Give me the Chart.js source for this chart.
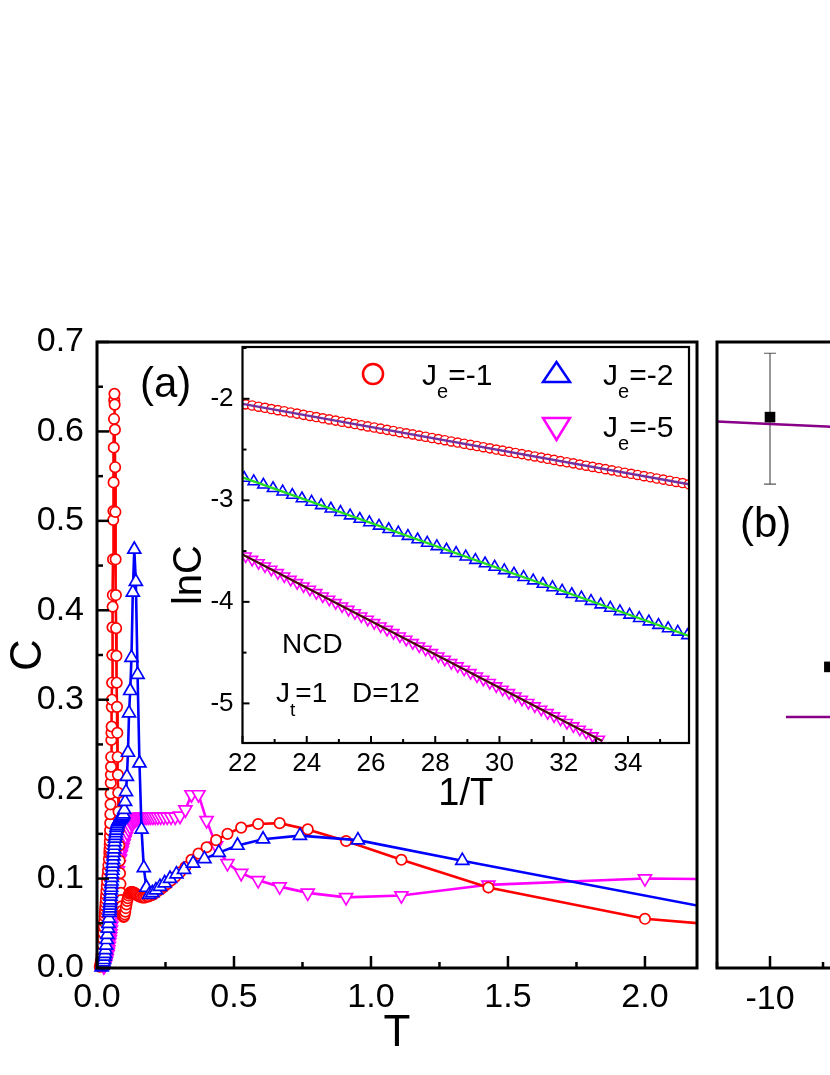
<!DOCTYPE html>
<html><head><meta charset="utf-8">
<script src="https://cdn.jsdelivr.net/npm/chart.js@4.4.1/dist/chart.umd.min.js"></script>
<style>
html,body{margin:0;padding:0;background:#fff;width:830px;height:1075px;overflow:hidden;}
#wrap{position:relative;width:830px;height:1075px;overflow:hidden;font-family:'Liberation Sans',Arial,sans-serif;color:#000;background:#fff;}
canvas{position:absolute;}
.t{position:absolute;white-space:nowrap;line-height:1;z-index:10;}
</style></head><body><div id="wrap">
<canvas id="cA" width="710" height="1075" style="left:0;top:0;z-index:1"></canvas>
<canvas id="cI" width="560" height="520" style="left:150px;top:300px;z-index:2"></canvas>
<canvas id="cB" width="710" height="1075" style="left:620px;top:0;z-index:3"></canvas>
<svg style="position:absolute;left:0;top:0;z-index:9" width="830" height="1075">
  <circle cx="373" cy="374" r="10" fill="#fff" stroke="#ff0000" stroke-width="2.5"/>
  <polygon points="543,382 570,382 556.5,362" fill="#fff" stroke="#0000ff" stroke-width="2.5"/>
  <polygon points="543,418 570,418 556.5,440" fill="#fff" stroke="#ff00ff" stroke-width="2.5"/>
</svg>
<div class="t" style="left:422px;top:360px;font-size:30px">J<span style="font-size:20px;position:relative;top:13px">e</span>=-1</div>
<div class="t" style="left:603px;top:360px;font-size:30px">J<span style="font-size:20px;position:relative;top:13px">e</span>=-2</div>
<div class="t" style="left:603px;top:412px;font-size:30px">J<span style="font-size:20px;position:relative;top:13px">e</span>=-5</div>
<div class="t" style="left:282px;top:630px;font-size:28px">NCD</div>
<div class="t" style="left:276px;top:679px;font-size:28px">J<span style="font-size:19px;position:relative;top:14px">t</span>=1</div>
<div class="t" style="left:352px;top:679px;font-size:28px">D=12</div>
<div class="t" style="left:140px;top:362px;font-size:42px">(a)</div>
<div class="t" style="left:740px;top:502px;font-size:42px">(b)</div>
<div class="t" style="left:147px;top:555px;width:80px;height:40px;line-height:40px;text-align:center;font-size:40px;transform:rotate(-90deg)">lnC</div>
</div>
<script>
const FONT = "'Liberation Sans', Arial, sans-serif";

// ---------- Panel (a): C vs T ----------
const redJe1 = [[0.0100,0.0015],[0.0125,0.0047],[0.0143,0.0084],[0.0167,0.0148],[0.0182,0.0196],[0.0200,0.026],[0.0217,0.0328],[0.0233,0.039],[0.0250,0.046],[0.0263,0.0518],[0.0278,0.058],[0.0286,0.0614],[0.0294,0.065],[0.0303,0.0688],[0.0313,0.0729],[0.0323,0.0771],[0.0333,0.0817],[0.0345,0.0865],[0.0357,0.0916],[0.0370,0.097],[0.0385,0.103],[0.0400,0.109],[0.0417,0.115],[0.0435,0.122],
[0.0452,0.128],[0.0457,0.131],[0.0461,0.134],[0.0465,0.138],[0.0469,0.142],[0.0474,0.148],[0.0478,0.154],[0.0483,0.162],[0.0488,0.172],[0.0493,0.183],[0.0498,0.195],[0.0503,0.207],[0.0508,0.216],[0.0513,0.225],[0.0518,0.236],[0.0524,0.255],[0.0529,0.263],[0.0535,0.270],[0.0541,0.292],[0.0546,0.300],[0.0552,0.319],[0.0559,0.350],[0.0565,0.381],[0.0571,0.404],[0.0578,0.417],[0.0585,0.457],[0.0592,0.501],[0.0599,0.511],[0.0606,0.543],[0.0613,0.582],[0.0621,0.614],[0.0629,0.635],
[0.0637,0.642],[0.0645,0.630],[0.0654,0.602],[0.0662,0.560],[0.0671,0.510],[0.0680,0.457],[0.0690,0.417],[0.0699,0.380],[0.0709,0.349],[0.0719,0.319],[0.0730,0.292],[0.0741,0.263],[0.0752,0.236],[0.0763,0.216],[0.0775,0.196],[0.0787,0.175],[0.0800,0.155],[0.0813,0.137],[0.0826,0.120],[0.0840,0.106],[0.0855,0.094],[0.0870,0.084],[0.0885,0.076],[0.0901,0.069],[0.0917,0.064],[0.0935,0.060],[0.0952,0.058],[0.0971,0.057],[0.0990,0.058],
[0.1010,0.060],[0.1031,0.063],[0.1053,0.067],[0.1075,0.071],[0.1099,0.075],[0.1124,0.078],[0.1149,0.081],[0.1176,0.083],[0.1205,0.084],[0.1235,0.085],[0.1266,0.085],[0.1299,0.085],[0.1333,0.084],[0.1370,0.084],[0.1408,0.083],[0.1449,0.082],[0.1493,0.081],[0.1538,0.080],[0.1587,0.080],[0.1639,0.079],[0.1695,0.079],[0.1754,0.079],[0.1818,0.080],[0.1887,0.080],[0.1961,0.081],[0.2041,0.082],[0.2128,0.084],[0.2222,0.086],[0.2326,0.088],[0.2439,0.091],[0.2564,0.094],[0.2703,0.098],[0.2857,0.102],[0.3030,0.107],[0.3226,0.113],[0.3448,0.121],[0.3704,0.128],[0.4000,0.135],[0.4348,0.143],[0.4762,0.150],[0.5263,0.157],[0.5882,0.161],[0.6667,0.162],[0.7692,0.155],[0.9091,0.142],[1.1111,0.121],[1.4286,0.090],[2.0000,0.055],[3.3333,0.021]];

const blueJe2 = [[0.0167,0.0009],[0.0200,0.0027],[0.0222,0.0047],[0.0238,0.0066],[0.0256,0.0092],[0.0277,0.0129],[0.0294,0.0161],[0.0312,0.0202],[0.0333,0.0253],[0.0357,0.0316],[0.0377,0.0374],[0.0399,0.0443],[0.0416,0.0496],[0.0434,0.0555],[0.0454,0.062],
[0.0460,0.064],[0.0466,0.067],[0.0473,0.070],[0.0480,0.073],[0.0487,0.076],[0.0494,0.080],[0.0501,0.083],[0.0509,0.087],[0.0517,0.090],[0.0525,0.094],[0.0533,0.097],[0.0542,0.101],[0.0551,0.105],[0.0560,0.109],[0.0570,0.113],[0.0580,0.117],[0.0590,0.121],[0.0601,0.125],[0.0612,0.129],[0.0623,0.133],[0.0635,0.137],[0.0647,0.141],[0.0660,0.145],[0.0673,0.148],[0.0687,0.151],[0.0702,0.154],[0.0717,0.157],[0.0733,0.159],[0.0749,0.161],[0.0766,0.163],[0.0784,0.164],[0.0803,0.165],[0.0823,0.166],[0.0844,0.167],[0.0866,0.167],[0.0889,0.168],[0.0913,0.169],[0.0939,0.170],[0.0966,0.172],
[0.0995,0.177],[0.1026,0.186],[0.1058,0.197],[0.1093,0.214],[0.1130,0.241],[0.1170,0.285],[0.1212,0.310],[0.1258,0.347],[0.1307,0.420],[0.1361,0.468],[0.1418,0.432],[0.1481,0.328],[0.1550,0.229],[0.1626,0.155],[0.1709,0.112],[0.1802,0.090],[0.1905,0.082],[0.2020,0.084],[0.2151,0.087],[0.2299,0.091],[0.2469,0.095],[0.2667,0.100],[0.2899,0.105],[0.3175,0.110],[0.3509,0.117],[0.3922,0.122],[0.4444,0.129],[0.5128,0.137],[0.6061,0.144],[0.7407,0.148],[0.9524,0.143],[1.3333,0.120],[2.2222,0.068]];

const magJe5 = [[0.0249,0.0015],[0.0277,0.0029],[0.0302,0.0047],[0.0332,0.0077],[0.0356,0.0107],[0.0383,0.0149],[0.0398,0.0176],[0.0415,0.0207],[0.0433,0.0244],[0.0452,0.0287],[0.0465,0.0317],[0.0478,0.035],[0.0493,0.0386],[0.0508,0.0426],[0.0524,0.047],[0.0541,0.0518],[0.0559,0.0572],[0.0578,0.063],[0.0599,0.0697],[0.0621,0.0768],[0.0645,0.082],[0.0671,0.088],[0.0699,0.095],[0.0730,0.102],[0.0763,0.109],[0.0800,0.116],[0.0840,0.122],[0.0870,0.127],[0.0901,0.131],[0.0935,0.135],[0.0971,0.139],[0.1010,0.143],[0.1053,0.147],[0.1099,0.151],[0.1149,0.155],[0.1205,0.158],[0.1266,0.161],[0.1299,0.162],[0.1333,0.164],[0.1370,0.165],[0.1408,0.166],[0.1449,0.167],[0.1493,0.168],[0.1538,0.169],[0.1587,0.169],[0.1639,0.169],[0.1695,0.169],[0.1754,0.169],[0.1818,0.169],[0.1887,0.169],[0.1961,0.169],[0.2041,0.169],[0.2128,0.169],[0.2222,0.169],[0.2326,0.169],[0.2439,0.169],[0.2564,0.169],[0.2703,0.169],[0.2857,0.169],[0.3030,0.170],[0.3226,0.177],[0.3448,0.194],[0.3704,0.194],[0.4000,0.165],[0.4348,0.137],[0.4762,0.117],[0.5263,0.106],[0.5882,0.098],[0.6667,0.091],[0.7692,0.084],[0.9091,0.079],[1.1111,0.081],[1.4286,0.093],[2.0000,0.100],[3.3333,0.097]];

const mainXTicks = {min:0, max:2.19, major:0.5, minor:0.25};
const mainYTicks = {min:0, max:0.7, major:0.1, minor:0.05};

// ---------- Inset: lnC vs 1/T ----------
const insetRed = [[22.1,-2.055],[22.3,-2.066],[22.5,-2.078],[22.7,-2.089],[22.9,-2.101],[23.1,-2.112],[23.3,-2.123],[23.5,-2.135],[23.7,-2.146],[23.9,-2.158],[24.1,-2.169],[24.3,-2.180],[24.5,-2.192],[24.7,-2.203],[24.9,-2.215],[25.1,-2.226],[25.3,-2.237],[25.5,-2.249],[25.7,-2.260],[25.9,-2.272],[26.1,-2.283],[26.3,-2.294],[26.5,-2.306],[26.7,-2.317],[26.9,-2.329],[27.1,-2.340],[27.3,-2.351],[27.5,-2.363],[27.7,-2.374],[27.9,-2.386],[28.1,-2.397],[28.3,-2.408],[28.5,-2.420],[28.7,-2.431],[28.9,-2.443],[29.1,-2.454],[29.3,-2.465],[29.5,-2.477],[29.7,-2.488],[29.9,-2.500],[30.1,-2.511],[30.3,-2.522],[30.5,-2.534],[30.7,-2.545],[30.9,-2.557],[31.1,-2.568],[31.3,-2.579],[31.5,-2.591],[31.7,-2.602],[31.9,-2.614],[32.1,-2.625],[32.3,-2.636],[32.5,-2.648],[32.7,-2.659],[32.9,-2.671],[33.1,-2.682],[33.3,-2.693],[33.5,-2.705],[33.7,-2.716],[33.9,-2.728],[34.1,-2.739],[34.3,-2.750],[34.5,-2.762],[34.7,-2.773],[34.9,-2.785],[35.1,-2.796],[35.3,-2.807],[35.5,-2.819],[35.7,-2.830],[35.9,-2.842]];
const insetBlue = [[22.05,-2.780],[22.35,-2.814],[22.65,-2.847],[22.95,-2.881],[23.25,-2.915],[23.55,-2.948],[23.85,-2.982],[24.15,-3.016],[24.45,-3.050],[24.75,-3.083],[25.05,-3.117],[25.35,-3.151],[25.65,-3.184],[25.95,-3.218],[26.25,-3.252],[26.55,-3.285],[26.85,-3.319],[27.15,-3.353],[27.45,-3.386],[27.75,-3.420],[28.05,-3.454],[28.35,-3.487],[28.65,-3.521],[28.95,-3.555],[29.25,-3.589],[29.55,-3.622],[29.85,-3.656],[30.15,-3.690],[30.45,-3.723],[30.75,-3.757],[31.05,-3.791],[31.35,-3.824],[31.65,-3.858],[31.95,-3.892],[32.25,-3.925],[32.55,-3.959],[32.85,-3.993],[33.15,-4.027],[33.45,-4.060],[33.75,-4.094],[34.05,-4.128],[34.35,-4.161],[34.65,-4.195],[34.95,-4.229],[35.25,-4.262],[35.55,-4.296],[35.85,-4.330]];
const insetMag = [[22.1,-3.550],[22.3,-3.583],[22.5,-3.616],[22.7,-3.648],[22.9,-3.681],[23.1,-3.714],[23.3,-3.747],[23.5,-3.780],[23.7,-3.812],[23.9,-3.845],[24.1,-3.878],[24.3,-3.911],[24.5,-3.944],[24.7,-3.976],[24.9,-4.009],[25.1,-4.042],[25.3,-4.075],[25.5,-4.108],[25.7,-4.140],[25.9,-4.173],[26.1,-4.206],[26.3,-4.239],[26.5,-4.272],[26.7,-4.304],[26.9,-4.337],[27.1,-4.370],[27.3,-4.403],[27.5,-4.436],[27.7,-4.468],[27.9,-4.501],[28.1,-4.534],[28.3,-4.567],[28.5,-4.600],[28.7,-4.632],[28.9,-4.665],[29.1,-4.698],[29.3,-4.731],[29.5,-4.764],[29.7,-4.796],[29.9,-4.829],[30.1,-4.862],[30.3,-4.895],[30.5,-4.928],[30.7,-4.960],[30.9,-4.993],[31.1,-5.026],[31.3,-5.059],[31.5,-5.092],[31.7,-5.124],[31.9,-5.157],[32.1,-5.190],[32.3,-5.223],[32.5,-5.256],[32.7,-5.288],[32.9,-5.321],[33.1,-5.354]];
const fitRed  = [[22.0,-2.049],[35.9,-2.842]];
const fitBlue = [[22.0,-2.774],[35.9,-4.336]];
const fitMag  = [[22.0,-3.534],[33.2,-5.371]];
const insetXTicks = {min:22, max:35.9, major:2, minor:1};
const insetYTicks = {min:-5.39, max:-1.49, major:1, minor:0.5};

// ---------- Panel (b) (partially visible) ----------
const bPoints = [[-10,0.880],[-4.4,0.481]];
const bErrLow  = [0.773, 0.478];
const bErrHigh = [0.982, 0.484];
const bFit1 = [[-15,0.873],[-10,0.869],[-4.7,0.865],[5,0.855]];
const bFit2 = [[-8.5,0.401],[0,0.401]];
const bXTicks = {min:-15, max:40, major:10, minor:5};
const bYRange = {min:0, max:1};

// ---------- helpers ----------
const xy = pts => pts.map(p => ({x:p[0], y:p[1]}));

function framePlugin(cfg){
  return {
    id:'frame_'+cfg.name,
    beforeDatasetsDraw(chart){
      if(!cfg.fill) return;
      const a=chart.chartArea, ctx=chart.ctx;
      ctx.save(); ctx.fillStyle='#fff'; ctx.fillRect(a.left,a.top,a.right-a.left,a.bottom-a.top); ctx.restore();
    },
    afterDatasetsDraw(chart){
      const {ctx, chartArea:a, scales} = chart;
      ctx.save();
      ctx.strokeStyle='#000';
      const draw=(scale, t, horiz)=>{
        const n0=Math.ceil((t.min-1e-9)/t.minor), n1=Math.floor((t.max+1e-9)/t.minor);
        for(let n=n0;n<=n1;n++){
          const v=n*t.minor;
          const r=v/t.major, isMaj=Math.abs(r-Math.round(r))<1e-6;
          const len=isMaj?cfg.majLen:cfg.minLen;
          const p=scale.getPixelForValue(v);
          ctx.lineWidth=cfg.tw;
          ctx.beginPath();
          if(horiz){ctx.moveTo(p,a.bottom);ctx.lineTo(p,a.bottom-len);}
          else {ctx.moveTo(a.left,p);ctx.lineTo(a.left+len,p);}
          ctx.stroke();
        }
      };
      if(cfg.xt) draw(scales.x,cfg.xt,true);
      if(cfg.yt) draw(scales.y,cfg.yt,false);
      ctx.lineWidth=cfg.lw;
      ctx.strokeRect(a.left,a.top,a.right-a.left,a.bottom-a.top);
      ctx.restore();
    }
  };
}

const baseOpts = {animation:false, responsive:false, devicePixelRatio:1, events:[],
  plugins:{legend:{display:false}, tooltip:{enabled:false}}};

// ---------- Chart (a) ----------
function series(pts, color, style, r, rot, order){
  return {data:xy(pts), showLine:true, borderColor:color, borderWidth:2.6, tension:0,
    pointStyle:style, pointRadius:r, pointRotation:rot, pointBorderColor:color, pointBackgroundColor:'#fff',
    pointBorderWidth:1.7, order:order, clip:{left:8,bottom:8,right:0,top:0}};
}
new Chart(document.getElementById('cA'), {
  type:'scatter',
  data:{datasets:[
    series(blueJe2,'#0000ff','triangle',7.5,0,0),
    series(redJe1,'#ff0000','circle',5.2,0,1),
    series(magJe5,'#ff00ff','triangle',7.5,180,2)
  ]},
  options:Object.assign({}, baseOpts, {
    layout:{padding:{top:342,right:13,left:0,bottom:0}},
    scales:{
      x:{type:'linear', min:mainXTicks.min, max:mainXTicks.max,
        ticks:{stepSize:mainXTicks.major, includeBounds:false, autoSkip:false, maxRotation:0, padding:9, color:'#000',
          font:{family:FONT,size:34}, callback:v=>Number(v).toFixed(1)},
        grid:{display:false, drawTicks:false}, border:{display:false},
        title:{display:true, text:'T', color:'#000', font:{family:FONT,size:44}, padding:{top:0,bottom:15}},
        afterFit:s=>{s.height=107;}},
      y:{type:'linear', min:mainYTicks.min, max:mainYTicks.max,
        ticks:{stepSize:mainYTicks.major, includeBounds:false, autoSkip:false, padding:13, color:'#000',
          font:{family:FONT,size:34}, callback:v=>Number(v).toFixed(1)},
        grid:{display:false, drawTicks:false}, border:{display:false},
        title:{display:true, text:'C', color:'#000', font:{family:FONT,size:44}, padding:{top:2,bottom:0}},
        afterFit:s=>{s.width=97;}}
    }
  }),
  plugins:[framePlugin({name:'a', xt:mainXTicks, yt:mainYTicks, majLen:12, minLen:6, tw:2.5, lw:3})]
});

// ---------- Inset ----------
function marks(pts, color, style, r, rot, bw){
  return {data:xy(pts), showLine:false, pointStyle:style, pointRadius:r, pointRotation:rot,
    pointBorderColor:color, pointBackgroundColor:'#fff', pointBorderWidth:bw, order:2, clip:0};
}
function fit(pts, color){
  return {data:xy(pts), showLine:true, borderColor:color, borderWidth:2.3, pointRadius:0, order:0, clip:0};
}
new Chart(document.getElementById('cI'), {
  type:'scatter',
  data:{datasets:[
    fit(fitRed,'#7030a0'), fit(fitBlue,'#22dd22'), fit(fitMag,'#4a0a0a'),
    marks(insetRed,'#ff0000','circle',4.6,0,1.4),
    marks(insetBlue,'#0000ff','triangle',6.5,0,1.6),
    marks(insetMag,'#ff00ff','triangle',6.3,180,1.6)
  ]},
  options:Object.assign({}, baseOpts, {
    layout:{padding:{top:47,right:21,left:0,bottom:0}},
    scales:{
      x:{type:'linear', min:insetXTicks.min, max:insetXTicks.max,
        ticks:{stepSize:insetXTicks.major, includeBounds:false, autoSkip:false, maxRotation:0, padding:5, color:'#000',
          font:{family:FONT,size:26}, callback:v=>String(Math.round(v))},
        grid:{display:false, drawTicks:false}, border:{display:false},
        title:{display:true, text:'1/T', color:'#000', font:{family:FONT,size:38}, padding:{top:0,bottom:3}},
        afterFit:s=>{s.height=77;}},
      y:{type:'linear', min:insetYTicks.min, max:insetYTicks.max,
        ticks:{stepSize:insetYTicks.major, includeBounds:false, autoSkip:false, padding:9, color:'#000',
          font:{family:FONT,size:26}, callback:v=>'-'+String(Math.abs(Math.round(v)))},
        grid:{display:false, drawTicks:false}, border:{display:false},
        title:{display:false},
        afterFit:s=>{s.width=92.5;}}
    }
  }),
  plugins:[framePlugin({name:'i', fill:true, xt:insetXTicks, yt:insetYTicks, majLen:7, minLen:4, tw:2, lw:2.2})]
});

// ---------- Chart (b) ----------
const errPlugin = {
  id:'errbars',
  beforeDatasetsDraw(chart){
    const {ctx, scales:{x,y}} = chart;
    ctx.save(); ctx.strokeStyle='#555'; ctx.lineWidth=1.2;
    bPoints.forEach((p,i)=>{
      const px=x.getPixelForValue(p[0]), lo=y.getPixelForValue(bErrLow[i]), hi=y.getPixelForValue(bErrHigh[i]);
      if(Math.abs(lo-hi)<12) return;
      ctx.beginPath();
      ctx.moveTo(px,lo); ctx.lineTo(px,hi);
      ctx.moveTo(px-6,lo); ctx.lineTo(px+6,lo);
      ctx.moveTo(px-6,hi); ctx.lineTo(px+6,hi);
      ctx.stroke();
    });
    ctx.restore();
  }
};
new Chart(document.getElementById('cB'), {
  type:'scatter',
  data:{datasets:[
    {data:xy(bPoints), showLine:false, pointStyle:'rect', pointRadius:7.5, pointBackgroundColor:'#000', pointBorderColor:'#000', pointBorderWidth:0, order:0},
    {data:xy(bFit1), showLine:true, borderColor:'#880088', borderWidth:2.4, pointRadius:0, order:1},
    {data:xy(bFit2), showLine:true, borderColor:'#880088', borderWidth:2.4, pointRadius:0, order:1}
  ]},
  options:Object.assign({}, baseOpts, {
    layout:{padding:{top:342,right:13,left:0,bottom:0}},
    scales:{
      x:{type:'linear', min:bXTicks.min, max:bXTicks.max,
        ticks:{stepSize:bXTicks.major, includeBounds:false, autoSkip:false, maxRotation:0, padding:11, color:'#000',
          font:{family:FONT,size:34}, callback:v=>String(Math.round(v))},
        grid:{display:false, drawTicks:false}, border:{display:false},
        afterFit:s=>{s.height=107;}},
      y:{type:'linear', min:bYRange.min, max:bYRange.max, ticks:{display:false},
        grid:{display:false, drawTicks:false}, border:{display:false},
        afterFit:s=>{s.width=97;}}
    }
  }),
  plugins:[errPlugin, framePlugin({name:'b', xt:bXTicks, majLen:12, minLen:6, tw:2.5, lw:3})]
});
</script>
</body></html>
